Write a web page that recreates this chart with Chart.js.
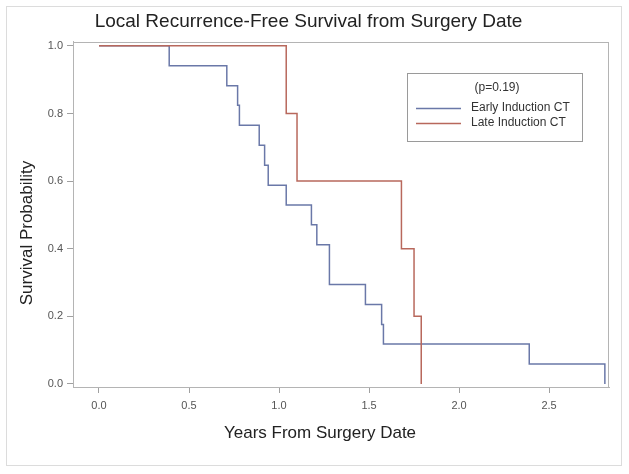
<!DOCTYPE html>
<html><head><meta charset="utf-8">
<script src="https://cdn.jsdelivr.net/npm/chart.js@4/dist/chart.umd.min.js"></script>
<style>html,body{margin:0;padding:0;background:#fff;}#wrap{width:629px;height:474px;}</style>
</head><body><div id="wrap"><canvas id="c" width="629" height="474"></canvas></div>
<script>
const chartTitle = 'Local Recurrence-Free Survival from Surgery Date';
const xAxisTitle = 'Years From Surgery Date';
const yAxisTitle = 'Survival Probability';
const legendHeader = '(p=0.19)';
const seriesNames = ['Early Induction CT', 'Late Induction CT'];
const earlyYears = [0, 0.39, 0.71, 0.77, 0.78, 0.89, 0.92, 0.94, 1.04, 1.18, 1.21, 1.28, 1.48, 1.57, 1.58, 2.39, 2.81];
const earlySurv  = [1.0, 0.941, 0.882, 0.824, 0.765, 0.706, 0.647, 0.588, 0.529, 0.471, 0.412, 0.294, 0.235, 0.176, 0.118, 0.059, 0.0];
const lateYears = [0, 1.04, 1.10, 1.68, 1.75, 1.79];
const lateSurv  = [1.0, 0.8, 0.6, 0.4, 0.2, 0.0];
const xTickValues = [0, 0.5, 1.0, 1.5, 2.0, 2.5];
const yTickValues = [0, 0.2, 0.4, 0.6, 0.8, 1.0];

const toPts = (xs, ys) => xs.map((x, i) => ({x: x, y: ys[i]}));
const FONT = "'Liberation Sans', Arial, sans-serif";

const framePlugin = {
  id: 'frame',
  beforeDraw(chart) {
    const ctx = chart.ctx;
    ctx.save();
    ctx.fillStyle = '#fff';
    ctx.fillRect(0, 0, chart.width, chart.height);
    ctx.strokeStyle = '#dcdcdc';
    ctx.lineWidth = 1;
    ctx.strokeRect(6.5, 6.5, 615, 459);
    ctx.restore();
  },
  beforeDatasetsDraw(chart) {
    const a = chart.chartArea, ctx = chart.ctx;
    ctx.save();
    ctx.strokeStyle = '#b4b4b4';
    ctx.lineWidth = 1;
    ctx.strokeRect(Math.round(a.left) + 0.5, Math.round(a.top) + 0.5, Math.round(a.right - a.left) - 1, Math.round(a.bottom - a.top));
    ctx.restore();
  },
  afterDraw(chart) {
    const ctx = chart.ctx;
    ctx.save();
    ctx.font = '17px ' + FONT;
    ctx.fillStyle = '#222';
    ctx.textAlign = 'center';
    ctx.textBaseline = 'middle';
    ctx.fillText(xAxisTitle, 320, 433);
    ctx.translate(27, 233);
    ctx.rotate(-Math.PI / 2);
    ctx.fillText(yAxisTitle, 0, 0);
    ctx.restore();
  }
};

const legendPlugin = {
  id: 'boxLegend',
  afterDatasetsDraw(chart) {
    const ctx = chart.ctx;
    ctx.save();
    ctx.fillStyle = '#fff';
    ctx.fillRect(407, 73, 175, 68);
    ctx.strokeStyle = '#9a9a9a';
    ctx.lineWidth = 1;
    ctx.strokeRect(407.5, 73.5, 175, 68);
    ctx.font = '12px ' + FONT;
    ctx.fillStyle = '#333';
    ctx.textBaseline = 'middle';
    ctx.textAlign = 'center';
    ctx.fillText(legendHeader, 497, 88);
    ctx.textAlign = 'left';
    const ys = [108, 123];
    chart.data.datasets.forEach((ds, i) => {
      ctx.strokeStyle = ds.borderColor;
      ctx.lineWidth = 1.5;
      ctx.beginPath();
      ctx.moveTo(416, ys[i] + 0.5);
      ctx.lineTo(461, ys[i] + 0.5);
      ctx.stroke();
      ctx.fillStyle = '#333';
      ctx.fillText(ds.label, 471, ys[i]);
    });
    ctx.restore();
  }
};

new Chart(document.getElementById('c'), {
  type: 'line',
  data: {
    datasets: [
      {label: seriesNames[0], data: toPts(earlyYears, earlySurv), borderColor: '#6a78a8', borderWidth: 1.5, stepped: true, pointRadius: 0, fill: false, order: 1},
      {label: seriesNames[1], data: toPts(lateYears, lateSurv), borderColor: '#b8685c', borderWidth: 1.5, stepped: true, pointRadius: 0, fill: false, order: 0}
    ]
  },
  options: {
    responsive: false,
    animation: false,
    devicePixelRatio: 1,
    layout: {padding: {left: 8, right: 20, top: 8, bottom: 20}},
    plugins: {
      legend: {display: false},
      tooltip: {enabled: false},
      title: {display: true, text: chartTitle, color: '#222', font: {family: FONT, size: 19, weight: 'normal'}, padding: {top: 2, bottom: 9}}
    },
    scales: {
      x: {
        type: 'linear', min: -0.1444, max: 2.833,
        afterBuildTicks: s => { s.ticks = xTickValues.map(v => ({value: v})); },
        afterFit: s => { s.height = 67; },
        ticks: {callback: v => Number(v).toFixed(1), color: '#555', font: {family: FONT, size: 11}, padding: 6, maxRotation: 0, autoSkip: false},
        grid: {drawOnChartArea: false, drawTicks: true, tickLength: 6, color: '#a0a0a0'},
        border: {display: true, color: '#b4b4b4'},
        title: {display: false, text: xAxisTitle}
      },
      y: {
        type: 'linear', min: -0.009, max: 1.012,
        afterBuildTicks: s => { s.ticks = yTickValues.map(v => ({value: v})); },
        afterFit: s => { s.width = 65; },
        ticks: {callback: v => Number(v).toFixed(1), color: '#555', font: {family: FONT, size: 11}, padding: 4, autoSkip: false},
        grid: {drawOnChartArea: false, drawTicks: true, tickLength: 6, color: '#a0a0a0'},
        border: {display: true, color: '#b4b4b4'},
        title: {display: false, text: yAxisTitle}
      }
    }
  },
  plugins: [framePlugin, legendPlugin]
});
</script></body></html>
